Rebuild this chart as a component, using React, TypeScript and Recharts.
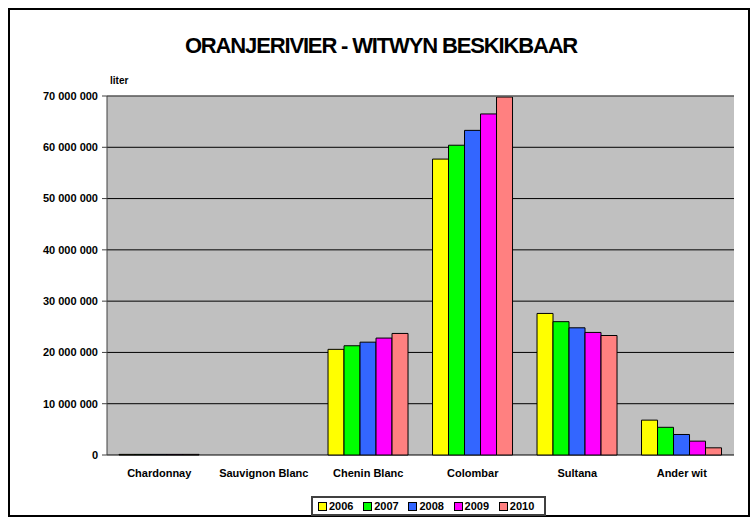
import { BarChart, Bar, XAxis, YAxis, CartesianGrid, ReferenceLine } from "recharts";

const categories = ["Chardonnay", "Sauvignon Blanc", "Chenin Blanc", "Colombar", "Sultana", "Ander wit"];
const years = ["2006", "2007", "2008", "2009", "2010"];
const colors = ["#FFFF00", "#00FF00", "#3366FF", "#FF00FF", "#FF8080"];

// liters per category, one list per year
const v2006 = [120000, 0, 20600000, 57700000, 27600000, 6800000];
const v2007 = [120000, 0, 21300000, 60400000, 26000000, 5400000];
const v2008 = [120000, 0, 22000000, 63300000, 24800000, 4000000];
const v2009 = [120000, 0, 22800000, 66500000, 23900000, 2700000];
const v2010 = [120000, 0, 23700000, 69800000, 23300000, 1400000];
const series = [v2006, v2007, v2008, v2009, v2010];

const yTicks = [0, 10000000, 20000000, 30000000, 40000000, 50000000, 60000000, 70000000];
const boundaryTicks = [0, 1, 2, 3, 4, 5, 6];

const data = categories.map((name, i) => {
  const row: Record<string, string | number> = { name };
  years.forEach((y, s) => (row[y] = series[s][i]));
  return row;
});

const FONT = "'Liberation Sans', Arial, sans-serif";
const TICK = { fontFamily: FONT, fontSize: 11, fontWeight: 700, fill: "#000" };

function fmt(n: number): string {
  return String(n).replace(/\B(?=(\d{3})+(?!\d))/g, " ");
}

export default function App() {
  return (
    <div style={{ position: "absolute", left: 0, top: 0, width: 752, height: 518, background: "#fff", fontFamily: FONT }}>
      <div style={{ position: "absolute", left: 8, top: 8, width: 738, height: 505, border: "2px solid #000" }} />
      <div
        style={{
          position: "absolute",
          left: 0,
          width: 762,
          top: 33,
          textAlign: "center",
          fontSize: 22,
          fontWeight: 700,
          letterSpacing: -1.15,
        }}
      >
        ORANJERIVIER - WITWYN BESKIKBAAR
      </div>
      <div style={{ position: "absolute", left: 110, top: 75, fontSize: 10, fontWeight: 700 }}>liter</div>
      <BarChart
        width={752}
        height={518}
        data={data}
        margin={{ top: 96, right: 18, left: 10, bottom: 33 }}
        barCategoryGap="11.5%"
        barGap={0}
        style={{ position: "absolute", left: 0, top: 0 }}
      >
        <CartesianGrid xAxisId="cat" fill="#C0C0C0" fillOpacity={1} stroke="#000" vertical={false} />
        <XAxis
          xAxisId="grid"
          type="number"
          domain={[0, 6]}
          ticks={boundaryTicks}
          allowDataOverflow
          height={0}
          tickSize={5}
          tickFormatter={() => ""}
          stroke="#000"
        />
        <XAxis
          xAxisId="cat"
          dataKey="name"
          height={30}
          tickSize={0}
          tickMargin={14}
          axisLine={false}
          tick={TICK}
          interval={0}
        />
        <YAxis
          width={97}
          domain={[0, 70000000]}
          ticks={yTicks}
          tickSize={5}
          tickMargin={4}
          tickFormatter={fmt}
          tick={TICK}
          stroke="#404040"
        />
        <ReferenceLine xAxisId="cat" y={70000000} stroke="#808080" />
        {years.map((y, i) => (
          <Bar key={y} xAxisId="cat" dataKey={y} fill={colors[i]} stroke="#000" strokeWidth={1} isAnimationActive={false} />
        ))}
      </BarChart>
      <div
        style={{
          position: "absolute",
          left: 311,
          top: 496,
          width: 226,
          height: 16,
          border: "2px solid #404040",
          display: "flex",
          alignItems: "center",
          paddingLeft: 5,
          boxSizing: "content-box",
        }}
      >
        {years.map((y, i) => (
          <div key={y} style={{ display: "flex", alignItems: "center", width: 46, fontSize: 11, fontWeight: 700 }}>
            <span style={{ width: 7, height: 7, background: colors[i], border: "1px solid #000", marginRight: 2 }} />
            {y}
          </div>
        ))}
      </div>
    </div>
  );
}
